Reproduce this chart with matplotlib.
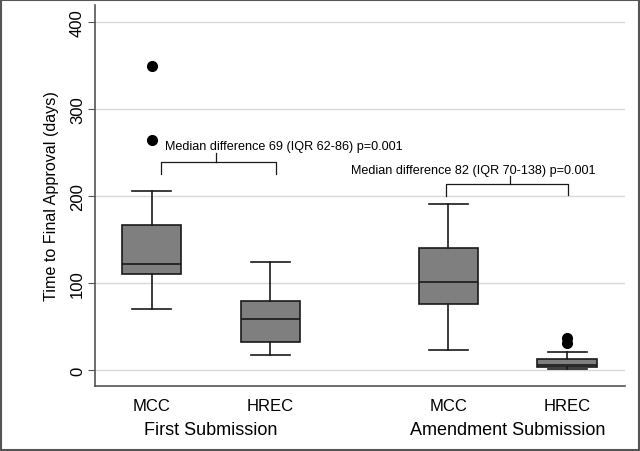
import matplotlib
matplotlib.use("Agg")
import matplotlib.pyplot as plt
from matplotlib.patches import Rectangle

plt.rcParams['font.family'] = ['Liberation Sans', 'DejaVu Sans']

# ---------- DATA ----------
groups = ["MCC", "HREC", "MCC", "HREC"]
positions = [1, 2, 3.5, 4.5]
whisk_lo = [70, 18, 23, 1]
q1 = [111, 33, 76, 4]
med = [122, 59, 102, 6]
q3 = [167, 80, 141, 13]
whisk_hi = [206, 124, 191, 21]
fliers = [[265, 350], [], [], [31, 37]]

section_labels = ["First Submission", "Amendment Submission"]
section_pos = [1.5, 4.0]

ann_text = ["Median difference 69 (IQR 62-86) p=0.001",
            "Median difference 82 (IQR 70-138) p=0.001"]

stats = []
for i in range(len(groups)):
    stats.append({"whislo": whisk_lo[i], "q1": q1[i], "med": med[i],
                  "q3": q3[i], "whishi": whisk_hi[i], "fliers": fliers[i]})

# ---------- PLOT ----------
fig = plt.figure(figsize=(6.4, 4.52), dpi=100)
ax = fig.add_axes([0.148, 0.144, 0.829, 0.843])

ax.bxp(stats, positions=positions, widths=0.5, patch_artist=True,
       boxprops=dict(facecolor="#7f7f7f", edgecolor="#1a1a1a", linewidth=1.2),
       medianprops=dict(color="#1a1a1a", linewidth=1.2),
       whiskerprops=dict(color="#1a1a1a", linewidth=1.2),
       capprops=dict(color="#1a1a1a", linewidth=1.2),
       capwidths=0.33,
       flierprops=dict(marker="o", markerfacecolor="black", markeredgecolor="black",
                       markersize=7))

ax.set_xlim(0.52, 4.99)
ax.set_ylim(-18, 420)
ax.set_yticks([0, 100, 200, 300, 400])
ax.set_yticklabels(["0", "100", "200", "300", "400"], rotation=90, va="center", fontsize=12)
ax.set_xticks(positions)
ax.set_xticklabels(groups, fontsize=12)
ax.tick_params(axis="x", length=0, pad=9)
ax.tick_params(axis="y", length=5, color="#555555", pad=2)
ax.set_ylabel("Time to Final Approval (days)", fontsize=11.6, labelpad=8)

ax.yaxis.grid(True, color="#d9d9d9", linewidth=1)
ax.set_axisbelow(True)
for s in ["top", "right"]:
    ax.spines[s].set_visible(False)
for s in ["left", "bottom"]:
    ax.spines[s].set_color("#555555")
    ax.spines[s].set_linewidth(1.2)

# section labels under the tick labels
for lab, xp in zip(section_labels, section_pos):
    ax.text(xp, -0.115, lab, transform=ax.get_xaxis_transform(),
            ha="center", va="center", fontsize=13)

# comparison brackets
lw = 0.9
ax.plot([1.08, 1.08, 2.05, 2.05], [226, 239.5, 239.5, 226], color="#1a1a1a", lw=lw)
ax.plot([1.54, 1.54], [239.5, 250], color="#1a1a1a", lw=lw)
ax.text(1.115, 258, ann_text[0], ha="left", va="center", fontsize=9.1)

ax.plot([3.48, 3.48, 4.51, 4.51], [200, 214, 214, 202], color="#1a1a1a", lw=lw)
ax.plot([4.02, 4.02], [214, 223], color="#1a1a1a", lw=lw)
ax.text(3.71, 230.5, ann_text[1], ha="center", va="center", fontsize=9.1)

# outer frame of the figure
fig.patches.append(Rectangle((0.002, 0.002), 0.996, 0.996, transform=fig.transFigure,
                             fill=False, edgecolor="#555555", linewidth=1.5))

fig.savefig("out.png", dpi=100)
